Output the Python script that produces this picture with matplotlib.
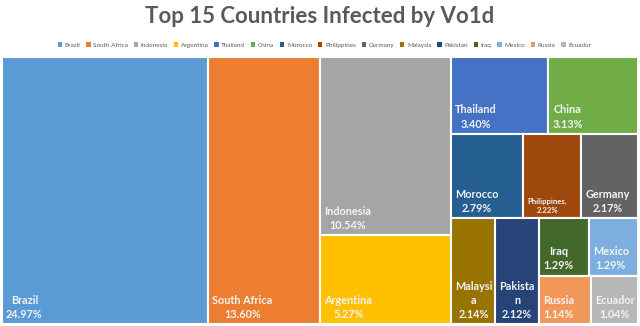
import matplotlib.pyplot as plt
from matplotlib.patches import Rectangle, Patch

plt.rcParams['font.family'] = ['Lato', 'DejaVu Sans']

countries = ["Brazil", "South Africa", "Indonesia", "Argentina", "Thailand", "China",
             "Morocco", "Philippines", "Germany", "Malaysia", "Pakistan", "Iraq",
             "Mexico", "Russia", "Ecuador"]
shares = [24.97, 13.60, 10.54, 5.27, 3.40, 3.13, 2.79, 2.22, 2.17, 2.14, 2.12,
          1.29, 1.29, 1.14, 1.04]
# how the names wrap inside the boxes
box_names = ["Brazil", "South Africa", "Indonesia", "Argentina", "Thailand", "China",
             "Morocco", "Philippines,", "Germany", "Malaysi\na", "Pakista\nn", "Iraq",
             "Mexico", "Russia", "Ecuador"]
colors = ["#5B9BD5", "#ED7D31", "#A5A5A5", "#FFC000", "#4472C4", "#70AD47",
          "#255E91", "#9E480E", "#636363", "#997300", "#264478", "#43682B",
          "#7CAFDD", "#F1975A", "#B7B7B7"]

# grouping of the treemap (columns / rows alternate at each level)
groups = [0, 1, [2, 3], [[4, 5], [6, 7, 8], [9, 10, [[11, 12], [13, 14]]]]]


def total(node):
    if isinstance(node, int):
        return shares[node]
    return sum(total(n) for n in node)


rects = {}


def split(node, x, y, w, h, horiz):
    if isinstance(node, int):
        rects[node] = (x, y, w, h)
        return
    s = total(node)
    pos = x if horiz else y
    for child in node:
        frac = total(child) / s
        if horiz:
            split(child, pos, y, w * frac, h, not horiz)
            pos += w * frac
        else:
            split(child, x, pos, w, h * frac, not horiz)
            pos += h * frac


split(groups, 0, 0, 1, 1, True)

fig = plt.figure(figsize=(6.4, 3.26), dpi=100)
ax = fig.add_axes([0.003, 0.006, 0.994, 0.819])
ax.set_xlim(0, 1)
ax.set_ylim(1, 0)
ax.axis('off')

for i, (x, y, w, h) in rects.items():
    ax.add_patch(Rectangle((x, y), w, h, facecolor=colors[i], edgecolor='white', linewidth=1.5))
    fs = 5.6 if i == 7 else 7.8
    ax.annotate(box_names[i] + "\n" + f"{shares[i]:.2f}%", xy=(x, y + h), xytext=(3, 3),
                textcoords='offset points', ha='left', va='bottom', multialignment='center',
                fontsize=fs, fontweight='bold', color='#F4F4F4', linespacing=1.35)

fig.text(0.5, 0.948, "Top 15 Countries Infected by Vo1d", ha='center', va='center',
         fontsize=16, fontweight='bold', color='#595959')

handles = [Patch(facecolor=c, edgecolor='none') for c in colors]
fig.legend(handles, countries, loc='center', bbox_to_anchor=(0.507, 0.862), ncol=15,
           frameon=False, fontsize=4.6, handlelength=0.7, handleheight=0.7,
           handletextpad=0.4, columnspacing=0.9, labelcolor='#595959')

fig.savefig("out.png", dpi=100)
